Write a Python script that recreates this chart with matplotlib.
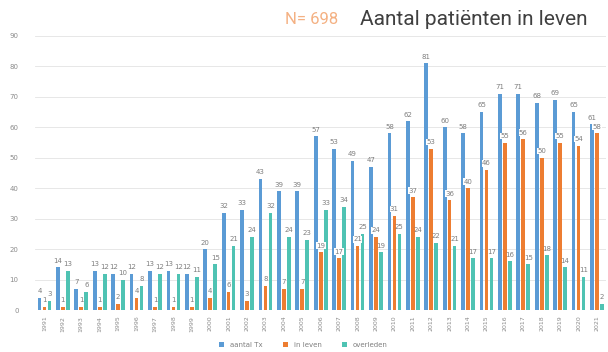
import numpy as np
import matplotlib.pyplot as plt

years = [str(y) for y in range(1991, 2022)]
aantal_tx = [4, 14, 7, 13, 12, 12, 13, 13, 12, 20, 32, 33, 43, 39, 39, 57,
             53, 49, 47, 58, 62, 81, 60, 58, 65, 71, 71, 68, 69, 65, 61]
in_leven = [1, 1, 1, 1, 2, 4, 1, 1, 1, 4, 6, 3, 8, 7, 7, 19,
            17, 21, 24, 31, 37, 53, 36, 40, 46, 55, 56, 50, 55, 54, 58]
overleden = [3, 13, 6, 12, 10, 8, 12, 12, 11, 15, 21, 24, 32, 24, 23, 33,
             34, 25, 19, 25, 24, 22, 21, 17, 17, 16, 15, 18, 14, 11, 2]

series = [
    ('aantal Tx', aantal_tx, '#5B9BD5', -0.27),
    ('in leven', in_leven, '#ED7D31', 0.0),
    ('overleden', overleden, '#4FC3B3', 0.27),
]

fig = plt.figure(figsize=(6.08, 3.52), dpi=100)
ax = fig.add_axes([0.058, 0.119, 0.939, 0.779])

x = np.arange(len(years))
for name, vals, col, off in series:
    bars = ax.bar(x + off, vals, width=0.2, color=col, label=name, zorder=2)
    for b, v in zip(bars, vals):
        kw = {}
        if name == 'in leven':
            kw['bbox'] = dict(boxstyle='square,pad=0.05', fc='white', ec='none')
        ax.text(b.get_x() + b.get_width() / 2, v + 1.2, str(v), ha='center',
                va='bottom', fontsize=5, color='#7f7f7f', zorder=3, **kw)

ax.set_ylim(0, 90)
ax.set_xlim(-0.5, len(years) - 0.5)
ax.set_yticks(range(0, 91, 10))
ax.set_xticks(x)
ax.set_xticklabels(years, rotation=90, fontsize=4.5, color='#8c8c8c')
ax.tick_params(axis='y', labelsize=5, colors='#8c8c8c', length=0, pad=12)
ax.tick_params(axis='x', length=0, pad=4)
ax.grid(axis='y', color='#e3e3e3', linewidth=0.6, zorder=0)
for s in ax.spines.values():
    s.set_visible(False)

ax.legend(loc='center', bbox_to_anchor=(0.47, -0.127), ncol=3,
          frameon=False, fontsize=5, handlelength=0.7, handleheight=0.7,
          columnspacing=3, labelcolor='#7f7f7f', borderpad=0)

title_font = ['Roboto', 'DejaVu Sans']
fig.text(0.468, 0.945, 'N= 698', fontsize=12, color='#F4B183',
         family=title_font, va='center')
fig.text(0.592, 0.945, 'Aantal patiënten in leven', fontsize=15,
         color='#404040', family=title_font, va='center')

fig.savefig('out.png', dpi=100)
